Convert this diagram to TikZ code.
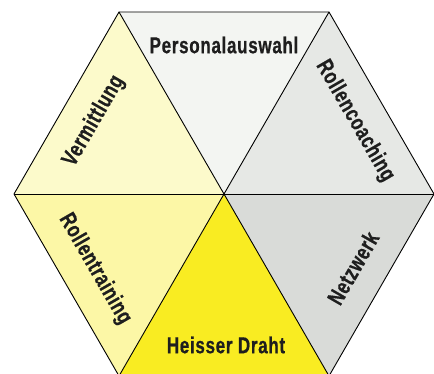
\documentclass[tikz,border=0pt]{standalone}
\usepackage{fontspec}
\setmainfont[FakeStretch=0.74,LetterSpace=3,BoldFeatures={FakeBold=0.6}]{Liberation Sans}
\definecolor{cPers}{HTML}{F3F5F2}
\definecolor{cCoach}{HTML}{E6E8E5}
\definecolor{cNetz}{HTML}{D9DBD8}
\definecolor{cDraht}{HTML}{F9EC22}
\definecolor{cTrain}{HTML}{FCF7A6}
\definecolor{cVerm}{HTML}{FCFACB}
\definecolor{txt}{HTML}{1E1E1E}
\tikzset{
  lab/.style={font=\bfseries\fontsize{23}{26}\selectfont, text=txt, inner sep=0pt},
  edge/.style={draw=black, line width=0.9pt, line join=round}
}
\begin{document}
\begin{tikzpicture}[x=1pt,y=-1pt]
\useasboundingbox (0,0) rectangle (434,374);
\fill[white] (0,0) rectangle (434,374);
\coordinate (C) at (224,194);
\coordinate (R) at (434,194);
\coordinate (UR) at (329,12);
\coordinate (UL) at (119,12);
\coordinate (L) at (14,194);
\coordinate (LL) at (119,376);
\coordinate (LR) at (329,376);
\fill[cPers] (C) -- (UL) -- (UR) -- cycle;
\fill[cCoach] (C) -- (UR) -- (R) -- cycle;
\fill[cNetz] (C) -- (R) -- (LR) -- cycle;
\fill[cDraht] (C) -- (LR) -- (LL) -- cycle;
\fill[cTrain] (C) -- (LL) -- (L) -- cycle;
\fill[cVerm] (C) -- (L) -- (UL) -- cycle;
\draw[edge] (R) -- (UR) -- (UL) -- (L) -- (LL) -- (LR) -- cycle;
\draw[edge] (R) -- (L);
\draw[edge] (UR) -- (LL);
\draw[edge] (UL) -- (LR);
\node[lab] (pers) at (224,45) {Personalauswahl};
\node[lab, rotate=-60] (coach) at (355,121) {Rollencoaching};
\node[lab, rotate=60] (netz) at (353,268) {Netzwerk};
\node[lab] (draht) at (226,345) {Heisser Draht};
\node[lab, rotate=-60] (train) at (95,269) {Rollentraining};
\node[lab, rotate=60] (verm) at (94,121) {Vermittlung};
\end{tikzpicture}
\end{document}
